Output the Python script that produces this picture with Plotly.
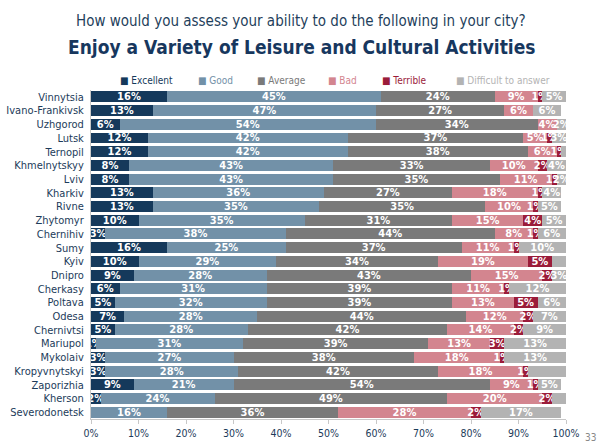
import plotly.graph_objects as go

cities = [
    "Vinnytsia", "Ivano-Frankivsk", "Uzhgorod", "Lutsk", "Ternopil", "Khmelnytskyy",
    "Lviv", "Kharkiv", "Rivne", "Zhytomyr", "Chernihiv", "Sumy", "Kyiv", "Dnipro",
    "Cherkasy", "Poltava", "Odesa", "Chernivtsi", "Mariupol", "Mykolaiv",
    "Kropyvnytskyi", "Zaporizhia", "Kherson", "Severodonetsk",
]

excellent = [16, 13, 6, 12, 12, 8, 8, 13, 13, 10, 3, 16, 10, 9, 6, 5, 7, 5, 1, 3, 3, 9, 2, 0]
good = [45, 47, 54, 42, 42, 43, 43, 36, 35, 35, 38, 25, 29, 28, 31, 32, 28, 28, 31, 27, 28, 21, 24, 16]
average = [24, 27, 34, 37, 38, 33, 35, 27, 35, 31, 44, 37, 34, 43, 39, 39, 44, 42, 39, 38, 42, 54, 49, 36]
bad = [9, 6, 4, 5, 6, 10, 11, 18, 10, 15, 8, 11, 19, 15, 11, 13, 12, 14, 13, 18, 18, 9, 20, 28]
terrible = [1, 0, 0, 1, 1, 2, 1, 1, 1, 4, 1, 1, 5, 2, 1, 5, 2, 2, 3, 1, 1, 1, 2, 2]
difficult = [5, 6, 2, 3, 2, 4, 2, 4, 5, 5, 6, 10, 4, 3, 12, 6, 7, 9, 13, 13, 9, 5, 4, 17]

x_ticks = [0, 10, 20, 30, 40, 50, 60, 70, 80, 90, 100]
x_tick_labels = [f"{t}%" for t in x_ticks]

series = [
    ("Excellent", excellent, "#15395b"),
    ("Good", good, "#7291a8"),
    ("Average", average, "#7a7a7a"),
    ("Bad", bad, "#d3858f"),
    ("Terrible", terrible, "#9b1c3a"),
    ("Difficult to answer", difficult, "#b3b3b3"),
]
legend_left = [118, 196, 255, 326, 380, 454]  # pixel x of each legend key

font = "DejaVu Sans Condensed, DejaVu Sans, sans-serif"
W, H = 600, 445
ml, mr, mt, mb = 91, 34, 90, 26
pw, ph = W - ml - mr, H - mt - mb


def px(x):
    return (x - ml) / pw


def py(y):
    return (H - mb - y) / ph


fig = go.Figure()
for name, vals, col in series:
    fig.add_trace(go.Bar(
        y=cities, x=vals, orientation="h", name=name,
        marker=dict(color=col, line=dict(width=0)),
        text=[f"<b>{v}%</b>" if v > 0 else "" for v in vals],
        textposition="inside", insidetextanchor="middle",
        constraintext="none", textangle=0,
        textfont=dict(color="white", size=11, family=font),
        cliponaxis=False, showlegend=False,
    ))

anns = [
    dict(text="How would you assess your ability to do the following in your city?",
         x=px(301), y=py(21), font=dict(size=15, color="#1f3f5c")),
    dict(text="<b>Enjoy a Variety of Leisure and Cultural Activities</b>",
         x=px(301), y=py(47), font=dict(size=19, color="#17375e")),
    dict(text="33", x=px(590), y=py(437), font=dict(size=10, color="#888888")),
]
# legend drawn as coloured text keys
for (name, vals, col), lx in zip(series, legend_left):
    anns.append(dict(text=f"■ {name}", x=px(lx), y=py(80), xanchor="left",
                     font=dict(size=10, color=col)))
for a in anns:
    a.update(xref="paper", yref="paper", showarrow=False, yanchor="middle")
    a.setdefault("xanchor", "center")
    a["font"]["family"] = font

fig.update_layout(
    barmode="stack", bargap=0.2,
    width=W, height=H,
    margin=dict(l=ml, r=mr, t=mt, b=mb, autoexpand=False),
    paper_bgcolor="white", plot_bgcolor="white",
    font=dict(family=font, color="#1c3b5a", size=11),
    showlegend=False,
    xaxis=dict(range=[0, 100], tickvals=x_ticks, ticktext=x_tick_labels,
               showgrid=False, zeroline=False, automargin=False,
               showline=True, linecolor="#c8c8c8", ticks="outside", tickcolor="#c8c8c8",
               ticklen=4, tickfont=dict(size=10.5, color="#1c3b5a")),
    yaxis=dict(autorange="reversed", showgrid=False, showline=True, linecolor="#c8c8c8",
               automargin=False, ticks="", tickfont=dict(size=11, color="#1c3b5a"),
               ticklabelstandoff=4),
    annotations=anns,
)

# drop the browser's default body margin so the figure sits at the page corner
fig.write_html("out.html", config={"displayModeBar": False},
               post_script="document.body.style.margin='0';")
